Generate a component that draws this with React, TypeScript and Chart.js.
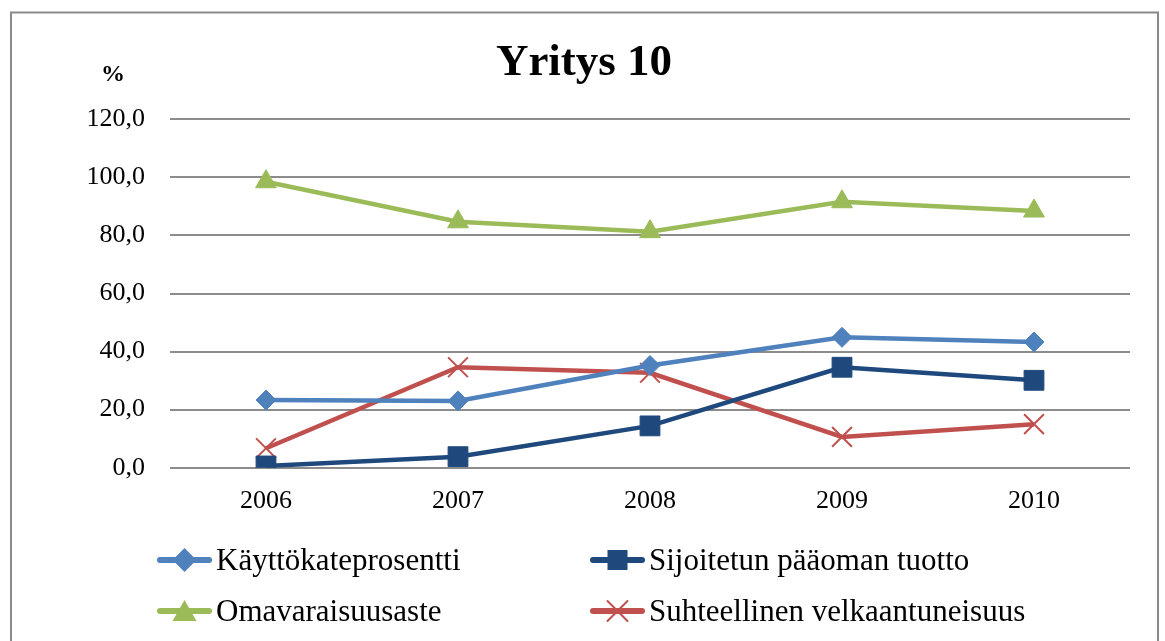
import React, { useEffect, useRef } from "react";
import { Chart, registerables } from "chart.js";

Chart.register(...registerables);

const chartTitle = "Yritys 10";
const categories = ["2006", "2007", "2008", "2009", "2010"];
const kayttokate = [23.3, 23.0, 35.2, 44.9, 43.3];
const sijoitetun = [0.6, 3.8, 14.4, 34.6, 30.1];
const omavaraisuus = [98.5, 84.7, 81.3, 91.6, 88.4];
const velkaantuneisuus = [6.7, 34.6, 32.7, 10.6, 15.0];
const yTickValues = [0, 20, 40, 60, 80, 100, 120];
const yTickLabels = ["0,0", "20,0", "40,0", "60,0", "80,0", "100,0", "120,0"];

const seriesNames = [
  "Käyttökateprosentti",
  "Sijoitetun pääoman tuotto",
  "Omavaraisuusaste",
  "Suhteellinen velkaantuneisuus",
];
const seriesColors = ["#4F81BD", "#1F497D", "#9BBB59", "#C0504D"];

const FONT = "'Liberation Serif', 'Times New Roman', serif";

function drawMarker(ctx: CanvasRenderingContext2D, style: string, x: number, y: number, color: string) {
  ctx.save();
  ctx.fillStyle = color;
  ctx.strokeStyle = color;
  ctx.beginPath();
  if (style === "rectRot") {
    const r = 12;
    ctx.moveTo(x, y - r);
    ctx.lineTo(x + r, y);
    ctx.lineTo(x, y + r);
    ctx.lineTo(x - r, y);
    ctx.closePath();
    ctx.fill();
  } else if (style === "rect") {
    const s = 10;
    ctx.rect(x - s, y - s, 2 * s, 2 * s);
    ctx.fill();
  } else if (style === "triangle") {
    ctx.moveTo(x, y - 11);
    ctx.lineTo(x + 12, y + 10);
    ctx.lineTo(x - 12, y + 10);
    ctx.closePath();
    ctx.fill();
  } else {
    const r = 10;
    ctx.lineWidth = 2;
    ctx.moveTo(x - r, y - r);
    ctx.lineTo(x + r, y + r);
    ctx.moveTo(x + r, y - r);
    ctx.lineTo(x - r, y + r);
    ctx.stroke();
  }
  ctx.restore();
}

const decorPlugin = {
  id: "decor",
  afterDraw(chart: any) {
    const ctx: CanvasRenderingContext2D = chart.ctx;
    ctx.save();
    // outer frame
    ctx.strokeStyle = "#8a8a8a";
    ctx.lineWidth = 2;
    ctx.strokeRect(11, 12.5, 1147, 640);
    // title
    ctx.fillStyle = "#000";
    ctx.font = `bold 45px ${FONT}`;
    ctx.textAlign = "center";
    ctx.textBaseline = "alphabetic";
    ctx.fillText(chartTitle, 584, 75);
    // "%" label
    ctx.font = `bold 24px ${FONT}`;
    ctx.fillText("%", 113, 81);
    // legend
    const styles = ["rectRot", "rect", "triangle", "crossRot"];
    const pos = [
      [157, 560],
      [590, 560],
      [157, 611],
      [590, 611],
    ];
    chart.data.datasets.forEach((ds: any, i: number) => {
      const [x, y] = pos[i];
      ctx.strokeStyle = ds.borderColor;
      ctx.lineWidth = 6;
      ctx.lineCap = "round";
      ctx.beginPath();
      ctx.moveTo(x + 3, y);
      ctx.lineTo(x + 52, y);
      ctx.stroke();
      drawMarker(ctx, styles[i], x + 27.5, y, ds.borderColor);
      ctx.fillStyle = "#000";
      ctx.font = `31px ${FONT}`;
      ctx.textAlign = "left";
      ctx.textBaseline = "alphabetic";
      ctx.fillText(ds.label, x + 59, y + 10);
    });
    ctx.restore();
  },
};

export default function App() {
  const ref = useRef<HTMLCanvasElement | null>(null);

  useEffect(() => {
    if (!ref.current) return;
    const mk = (i: number, data: number[], style: string, radius: number, bw: number) => ({
      label: seriesNames[i],
      data,
      borderColor: seriesColors[i],
      backgroundColor: seriesColors[i],
      pointBackgroundColor: seriesColors[i],
      pointBorderColor: seriesColors[i],
      pointStyle: style,
      pointRadius: radius,
      pointHoverRadius: radius,
      pointBorderWidth: bw,
      borderWidth: 4.5,
      tension: 0,
      fill: false,
    });
    const chart = new Chart(ref.current, {
      type: "line",
      data: {
        labels: categories,
        datasets: [
          mk(0, kayttokate, "rectRot", 10, 1),
          mk(1, sijoitetun, "rect", 14, 1),
          mk(2, omavaraisuus, "triangle", 12, 1),
          mk(3, velkaantuneisuus, "crossRot", 14, 2),
        ],
      },
      options: {
        responsive: false,
        animation: false,
        events: [],
        layout: { padding: { left: 0, right: 35, top: 119.3, bottom: 113.3 } },
        plugins: {
          legend: { display: false },
          tooltip: { enabled: false },
          title: { display: false },
        },
        scales: {
          x: {
            offset: true,
            grid: { display: false, drawTicks: false },
            border: { display: false },
            ticks: { color: "#000", font: { family: FONT, size: 26 }, padding: 18, maxRotation: 0 },
            afterFit: (s: any) => {
              s.height = 60;
            },
          },
          y: {
            min: 0,
            max: 120,
            afterBuildTicks: (s: any) => {
              s.ticks = yTickValues.map((v) => ({ value: v }));
            },
            grid: { color: "#8c8c8c", lineWidth: 2, drawTicks: false },
            border: { display: false },
            ticks: {
              color: "#000",
              font: { family: FONT, size: 26 },
              padding: 25,
              callback: (v: any) => {
                const idx = yTickValues.indexOf(Number(v));
                return idx >= 0 ? yTickLabels[idx] : "";
              },
            },
            afterFit: (s: any) => {
              s.width = 170;
            },
          },
        },
      },
      plugins: [decorPlugin],
    });
    return () => chart.destroy();
  }, []);

  return (
    <div style={{ position: "fixed", left: 0, top: 0, width: 1165, height: 641, background: "#fff" }}>
      <canvas ref={ref} width={1165} height={641} style={{ display: "block" }} />
    </div>
  );
}
